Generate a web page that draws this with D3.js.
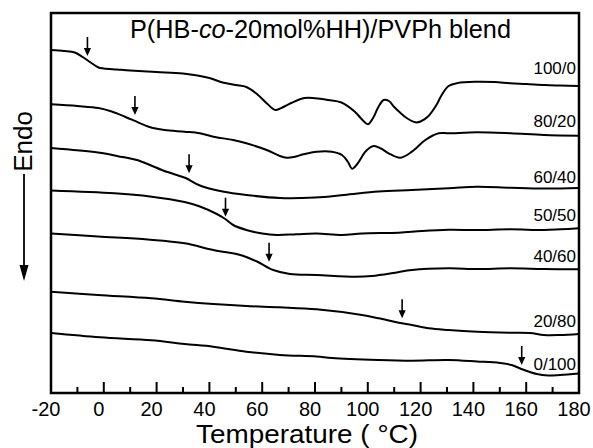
<!DOCTYPE html>
<html>
<head>
<meta charset="utf-8">
<script src="https://cdn.jsdelivr.net/npm/d3@7"></script>
<style>
  html, body { margin: 0; padding: 0; background: #fff; }
  svg { display: block; }
  text { font-family: "Liberation Sans", Arial, Helvetica, sans-serif; fill: #000; }
</style>
</head>
<body>
<svg id="chart" width="593" height="448"></svg>
<script>
// ---------- DATA ----------
const seriesNames = ["100/0", "80/20", "60/40", "50/50", "40/60", "20/80", "0/100"];

const temp100_0 = [-20,-15,-11,-8,-5,-2,0,5,10,20,30,40,45,50,54,58,62,65,68,71,76,80,85,90,95,98,100,102,104,106,108,110,112,115,118,120,123,126,128,130.6,134,141,148,154,160,167,173,180];
const heat100_0 = [34.30,34.20,34.05,33.60,33.05,32.55,32.45,32.35,32.25,32.10,31.95,31.50,31.05,30.80,30.60,29.90,28.90,28.30,28.60,29.00,29.50,29.48,29.30,29.05,28.15,27.30,26.87,27.50,28.60,29.30,29.20,28.60,28.10,27.45,27.07,27.15,27.70,28.80,29.80,30.70,31.00,31.13,31.10,30.97,30.90,30.80,30.75,30.70];

const temp80_20 = [-20,-10,-2,3,8,13,17,23,30.6,36.4,41.5,49,54,61.7,66.7,69.3,72,75.6,80.6,86.4,90.2,92.5,94,96,99.3,102.2,105,107.9,112.3,116.7,121.8,126.9,130.6,141.4,154.1,166.7,180];
const heat80_20 = [28.87,28.70,28.50,28.15,27.63,27.07,26.63,26.30,26.13,25.97,25.63,25.30,24.97,24.30,23.70,23.53,23.60,23.87,24.13,24.13,23.80,23.10,22.43,22.90,24.20,24.70,24.45,23.97,23.53,24.13,25.30,25.97,25.97,26.07,25.97,25.80,25.73];

const temp60_40 = [-20,-2.2,7,12.5,17.5,22,27,31,36.4,45,54,66.7,80,91,104,116.7,130.6,141.4,154,166.7,180];
const heat60_40 = [24.50,24.05,23.60,23.30,22.80,22.30,21.85,21.50,20.75,20.15,19.80,19.50,19.55,19.80,20.15,20.30,20.47,20.63,20.53,20.45,20.50];

const temp50_50 = [-20,4,17.5,30.6,36.4,42.8,46,49,54,60,65.5,73,80.6,90.2,97.8,111.7,120.5,130.6,141.4,154,166.7,173,180];
const heat50_50 = [20.25,19.97,19.65,19.10,18.65,17.90,17.40,16.80,16.30,15.95,15.80,15.88,15.95,15.80,15.95,16.03,16.20,16.32,16.30,16.37,16.30,16.37,16.47];

const temp40_60 = [-20,-2.2,16.7,30.6,41.5,51.7,58,64.2,70.5,80.6,95.2,101.6,110.4,116.7,130.6,141.4,154,166.7,180];
const heat40_60 = [15.95,15.65,15.35,14.97,14.30,13.80,13.15,12.30,11.90,11.80,11.63,11.70,12.03,12.30,12.47,12.40,12.47,12.40,12.37];

const temp20_80 = [-20,-2.2,18,30.6,41.5,54,66.7,80.6,97.8,104.1,111.7,116.7,123.1,130.6,141.4,154,161.4,166.7,172.8,180];
const heat20_80 = [10.13,9.80,9.47,9.13,8.90,8.70,8.57,8.37,7.80,7.47,7.03,6.80,6.47,6.30,6.13,6.03,6.00,5.80,5.80,5.90];

const temp0_100 = [-20,-1.4,18,30.6,41.5,54,66.7,80.6,86.4,104,116.7,130.6,141.4,150,154.5,158.7,164,168.3,172.8,180];
const heat0_100 = [6.00,5.57,5.27,4.90,4.63,4.13,3.80,3.65,3.50,3.30,3.23,3.30,3.15,3.00,2.80,2.35,1.90,1.75,1.80,1.95];

// Tg arrows (temperature, heat-flow value at arrow tip)
const arrowTemps = [-6.2, 11.8, 32.3, 46.1, 62.6, 113, 158.3];
const arrowTips  = [33.7, 27.8, 21.97, 17.63, 13.13, 7.47, 2.8];

// Composition labels (heat-flow value of label baseline)
const labelValues = [31.87, 26.57, 21.0, 17.23, 13.13, 6.63, 2.3];

const xTicksMajor = [-20, 0, 20, 40, 60, 80, 100, 120, 140, 160, 180];
const xTicksMinor = [-10, 10, 30, 50, 70, 90, 110, 130, 150, 170];

const titleMain = "P(HB-", titleItalic = "co", titleRest = "-20mol%HH)/PVPh blend";
const xTitle = "Temperature ( \u00B0C)";
const yTitle = "Endo";

// ---------- CHART ----------
const temps = [temp100_0, temp80_20, temp60_40, temp50_50, temp40_60, temp20_80, temp0_100];
const heats = [heat100_0, heat80_20, heat60_40, heat50_50, heat40_60, heat20_80, heat0_100];
const series = seriesNames.map((name, i) => ({
  name,
  points: temps[i].map((t, j) => ({ t, h: heats[i][j] })),
  arrowT: arrowTemps[i], arrowH: arrowTips[i], labelH: labelValues[i]
}));

const svg = d3.select("#chart");
const L = 51, R = 579, T = 13, B = 393;
const x = d3.scaleLinear().domain([-20, 180]).range([L, R]);
const y = d3.scaleLinear().domain([0, 38]).range([B, T]);

const plot = svg.append("g");

const line = d3.line().x(d => x(d.t)).y(d => y(d.h)).curve(d3.curveCatmullRom.alpha(0.5));

plot.selectAll("path.curve").data(series).join("path")
  .attr("class", "curve")
  .attr("d", d => line(d.points))
  .attr("fill", "none").attr("stroke", "#000").attr("stroke-width", 2)
  .attr("stroke-linejoin", "round");

// arrows
const arrowLen = 19, headLen = 8, headW = 3.6;
const arrows = plot.selectAll("g.arrow").data(series).join("g").attr("class", "arrow")
  .attr("transform", d => `translate(${x(d.arrowT)},${y(d.arrowH)})`);
arrows.append("line").attr("x1", 0).attr("x2", 0).attr("y1", -arrowLen).attr("y2", -headLen + 1)
  .attr("stroke", "#000").attr("stroke-width", 1.6);
arrows.append("path").attr("d", `M0,0L${-headW},${-headLen}L${headW},${-headLen}Z`).attr("fill", "#000");

// labels
plot.selectAll("text.lab").data(series).join("text").attr("class", "lab")
  .attr("x", R - 3).attr("y", d => y(d.labelH))
  .attr("text-anchor", "end").attr("font-size", 17)
  .text(d => d.name);

// axis (ticks inward)
const xAxis = svg.append("g").attr("transform", `translate(0,${B})`);
xAxis.selectAll("line.maj").data(xTicksMajor).join("line").attr("class", "maj")
  .attr("x1", d => x(d)).attr("x2", d => x(d)).attr("y1", 0).attr("y2", -11)
  .attr("stroke", "#000").attr("stroke-width", 2);
xAxis.selectAll("line.min").data(xTicksMinor).join("line").attr("class", "min")
  .attr("x1", d => x(d)).attr("x2", d => x(d)).attr("y1", 0).attr("y2", -6)
  .attr("stroke", "#000").attr("stroke-width", 2);
xAxis.selectAll("text").data(xTicksMajor).join("text")
  .attr("x", d => x(d) - 5).attr("y", 23)
  .attr("text-anchor", "middle").attr("font-size", 20)
  .text(d => d);

// frame
svg.append("rect").attr("x", L).attr("y", T).attr("width", R - L).attr("height", B - T)
  .attr("fill", "none").attr("stroke", "#000").attr("stroke-width", 2.5);

// title
const tt = svg.append("text").attr("x", 130).attr("y", 38).attr("font-size", 25.3);
tt.append("tspan").text(titleMain);
tt.append("tspan").attr("font-style", "italic").text(titleItalic);
tt.append("tspan").text(titleRest);

// x title
svg.append("text").attr("x", 196).attr("y", 443)
  .attr("font-size", 25.5).attr("textLength", 222).attr("lengthAdjust", "spacingAndGlyphs")
  .text(xTitle);

// y title with arrow
svg.append("text").attr("transform", "translate(32,141.5) rotate(-90)")
  .attr("text-anchor", "middle").attr("font-size", 26).text(yTitle);
svg.append("line").attr("x1", 24).attr("x2", 24).attr("y1", 174).attr("y2", 270)
  .attr("stroke", "#000").attr("stroke-width", 1.8);
svg.append("path").attr("d", "M24,281L19.5,265L28.5,265Z").attr("fill", "#000");
</script>
</body>
</html>
